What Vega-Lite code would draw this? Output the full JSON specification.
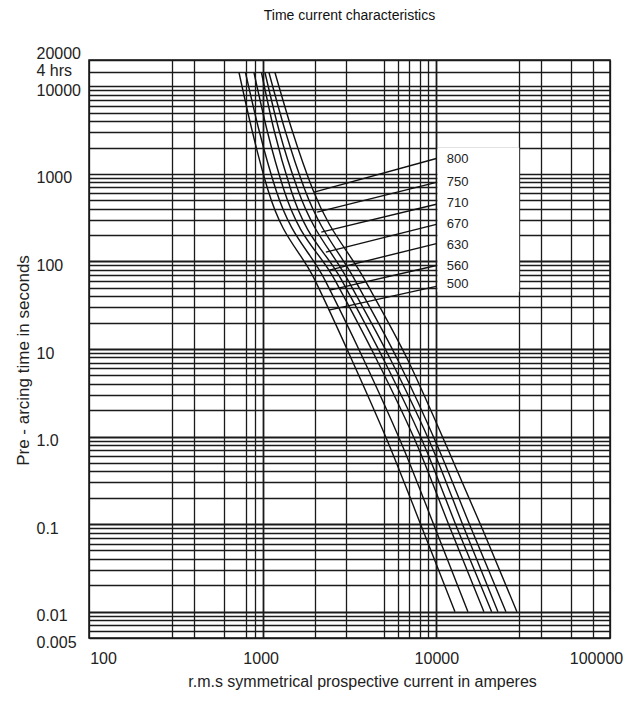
{
  "$schema": "https://vega.github.io/schema/vega-lite/v6.json",
  "width": 521,
  "height": 578,
  "autosize": "none",
  "padding": {"left": 89, "top": 60, "right": 26, "bottom": 63},
  "background": "white",
  "config": {
    "view": {"stroke": "#111", "strokeWidth": 1.5},
    "font": "Liberation Sans, Arial, sans-serif",
    "text": {"font": "Liberation Sans, Arial, sans-serif"}
  },
  "title": {
    "text": "Time current characteristics",
    "anchor": "middle",
    "fontSize": 14,
    "fontWeight": "normal",
    "color": "#111",
    "offset": 22,
    "font": "Liberation Sans, Arial, sans-serif"
  },
  "datasets": {
    "curves": [
      {"fuse": "500", "I": 730.5, "t": 14400}, {"fuse": "500", "I": 867.8, "t": 3170}, {"fuse": "500", "I": 1073, "t": 653.6}, {"fuse": "500", "I": 2000, "t": 61.2}, {"fuse": "500", "I": 3268, "t": 7.45}, {"fuse": "500", "I": 5406, "t": 0.761}, {"fuse": "500", "I": 8374, "t": 0.085}, {"fuse": "500", "I": 12800, "t": 0.01},
      {"fuse": "560", "I": 796, "t": 14400}, {"fuse": "560", "I": 952, "t": 3170}, {"fuse": "560", "I": 1193, "t": 653.6}, {"fuse": "560", "I": 2284, "t": 61.2}, {"fuse": "560", "I": 3830, "t": 7.45}, {"fuse": "560", "I": 6422, "t": 0.761}, {"fuse": "560", "I": 9948, "t": 0.085}, {"fuse": "560", "I": 15200, "t": 0.01},
      {"fuse": "630", "I": 891, "t": 14400}, {"fuse": "630", "I": 1059, "t": 3170}, {"fuse": "630", "I": 1326, "t": 653.6}, {"fuse": "630", "I": 2608, "t": 61.2}, {"fuse": "630", "I": 4550, "t": 7.45}, {"fuse": "630", "I": 7836, "t": 0.761}, {"fuse": "630", "I": 12140, "t": 0.085}, {"fuse": "630", "I": 18790, "t": 0.01},
      {"fuse": "670", "I": 984, "t": 14400}, {"fuse": "670", "I": 1162, "t": 3170}, {"fuse": "670", "I": 1455, "t": 653.6}, {"fuse": "670", "I": 2850, "t": 61.2}, {"fuse": "670", "I": 4993, "t": 7.45}, {"fuse": "670", "I": 8600, "t": 0.761}, {"fuse": "670", "I": 13320, "t": 0.085}, {"fuse": "670", "I": 20820, "t": 0.01},
      {"fuse": "710", "I": 1031, "t": 14400}, {"fuse": "710", "I": 1241, "t": 3170}, {"fuse": "710", "I": 1597, "t": 653.6}, {"fuse": "710", "I": 3098, "t": 61.2}, {"fuse": "710", "I": 5477, "t": 7.45}, {"fuse": "710", "I": 9434, "t": 0.761}, {"fuse": "710", "I": 14610, "t": 0.085}, {"fuse": "710", "I": 22630, "t": 0.01},
      {"fuse": "750", "I": 1087, "t": 14400}, {"fuse": "750", "I": 1344, "t": 3170}, {"fuse": "750", "I": 1752, "t": 653.6}, {"fuse": "750", "I": 3400, "t": 61.2}, {"fuse": "750", "I": 6010, "t": 7.45}, {"fuse": "750", "I": 10210, "t": 0.761}, {"fuse": "750", "I": 16030, "t": 0.085}, {"fuse": "750", "I": 25160, "t": 0.01},
      {"fuse": "800", "I": 1177, "t": 14400}, {"fuse": "800", "I": 1475, "t": 3170}, {"fuse": "800", "I": 1949, "t": 653.6}, {"fuse": "800", "I": 3880, "t": 61.2}, {"fuse": "800", "I": 6862, "t": 7.45}, {"fuse": "800", "I": 11510, "t": 0.761}, {"fuse": "800", "I": 18550, "t": 0.085}, {"fuse": "800", "I": 29110, "t": 0.01}
    ],
    "leaders": [
      {"fuse": "800", "I": 1979, "t": 620}, {"fuse": "800", "I": 10000, "t": 1500},
      {"fuse": "750", "I": 2060, "t": 366}, {"fuse": "750", "I": 10000, "t": 800},
      {"fuse": "710", "I": 2175, "t": 216}, {"fuse": "710", "I": 10000, "t": 450},
      {"fuse": "670", "I": 2312, "t": 128}, {"fuse": "670", "I": 10000, "t": 265},
      {"fuse": "630", "I": 2418, "t": 79.6}, {"fuse": "630", "I": 10000, "t": 160},
      {"fuse": "560", "I": 2437, "t": 47}, {"fuse": "560", "I": 10000, "t": 90},
      {"fuse": "500", "I": 2405, "t": 27.8}, {"fuse": "500", "I": 10000, "t": 52}
    ],
    "labels": [
      {"fuse": "800", "I": 11500, "t": 1477},
      {"fuse": "750", "I": 11500, "t": 800},
      {"fuse": "710", "I": 11500, "t": 461},
      {"fuse": "670", "I": 11500, "t": 265},
      {"fuse": "630", "I": 11500, "t": 153.7},
      {"fuse": "560", "I": 11500, "t": 88.4},
      {"fuse": "500", "I": 11500, "t": 54.6}
    ],
    "box": [
      {"I": 10150, "I2": 30000, "t": 2000, "t2": 45}
    ]
  },
  "encoding": {
    "x": {
      "field": "I",
      "type": "quantitative",
      "scale": {"type": "log", "domain": [100, 100000], "nice": false},
      "axis": {
        "values": [100, 300, 400, 600, 800, 900, 1000, 2000, 3000, 5000, 6000, 7000, 8000, 9000, 10000, 30000, 40000, 60000, 80000, 100000],
        "title": "r.m.s symmetrical prospective current in amperes",
        "labelExpr": "datum.value == 100 ? '100' : datum.value == 1000 ? '1000' : datum.value == 10000 ? '10000' : datum.value == 100000 ? '100000' : ''",
        "grid": true,
        "gridColor": "#1a1a1a",
        "gridWidth": {"condition": {"test": "datum.value == 1000 || datum.value == 10000", "value": 1.8}, "value": 1.3},
        "ticks": false,
        "tickSize": 0,
        "domain": false,
        "labelPadding": 12,
        "labelFontSize": 16,
        "labelColor": "#222",
        "labelOverlap": false,
        "labelBound": false,
        "labelFlush": false,
        "labelOffset": {"condition": [{"test": "datum.value == 100", "value": 14}, {"test": "datum.value == 100000", "value": -14}, {"test": "datum.value == 1000", "value": -2}], "value": 0},
        "titleFontSize": 16,
        "titleFontWeight": "normal",
        "titleColor": "#222",
        "titleX": 273,
        "titleY": 43,
        "titleAlign": "center",
        "titleBaseline": "middle"
      }
    },
    "y": {
      "field": "t",
      "type": "quantitative",
      "scale": {"type": "log", "domain": [0.005, 20000], "nice": false},
      "axis": {
        "values": [0.005, 0.006, 0.007, 0.008, 0.009, 0.01, 0.02, 0.03, 0.04, 0.05, 0.06, 0.07, 0.08, 0.09, 0.1, 0.2, 0.3, 0.4, 0.5, 0.6, 0.7, 0.8, 0.9, 1, 2, 3, 4, 5, 6, 7, 8, 9, 10, 20, 30, 40, 50, 60, 70, 80, 90, 100, 200, 300, 400, 500, 600, 700, 800, 900, 1000, 2000, 3000, 4000, 5000, 6000, 7000, 8000, 9000, 10000, 14400, 20000],
        "title": "Pre - arcing time in seconds",
        "labelExpr": "datum.value == 20000 ? '20000' : datum.value == 14400 ? '4 hrs' : datum.value == 10000 ? '10000' : datum.value == 1000 ? '1000' : datum.value == 100 ? '100' : datum.value == 10 ? '10' : datum.value == 1 ? '1.0' : datum.value == 0.1 ? '0.1' : datum.value == 0.01 ? '0.01' : datum.value == 0.005 ? '0.005' : ''",
        "grid": true,
        "gridColor": "#1a1a1a",
        "gridWidth": {"condition": {"test": "datum.value == 100 || datum.value == 10 || datum.value == 0.01 || datum.value == 1 || datum.value == 0.1", "value": 2}, "value": 1.3},
        "ticks": false,
        "tickSize": 0,
        "domain": false,
        "labelAlign": "left",
        "labelBaseline": "middle",
        "labelPadding": 53,
        "labelFontSize": 16,
        "labelColor": "#222",
        "labelOverlap": false,
        "labelBound": false,
        "labelFlush": false,
        "labelOffset": {"condition": [{"test": "datum.value == 20000", "value": -7}, {"test": "datum.value == 14400", "value": -2}], "value": 4},
        "titleFontSize": 17,
        "titleFontWeight": "normal",
        "titleColor": "#222",
        "titleX": -66,
        "titleY": 300,
        "titleAlign": "center",
        "titleBaseline": "middle",
        "titleAngle": -90
      }
    }
  },
  "layer": [
    {
      "data": {"name": "box"},
      "mark": {"type": "rect", "fill": "white", "stroke": null},
      "encoding": {
        "x2": {"field": "I2"},
        "y2": {"field": "t2"}
      }
    },
    {
      "data": {"name": "curves"},
      "mark": {"type": "line", "color": "#111", "strokeWidth": 1.4, "interpolate": "monotone"},
      "encoding": {
        "detail": {"field": "fuse", "type": "nominal"}
      }
    },
    {
      "data": {"name": "leaders"},
      "mark": {"type": "line", "color": "#111", "strokeWidth": 1.4},
      "encoding": {
        "detail": {"field": "fuse", "type": "nominal"}
      }
    },
    {
      "data": {"name": "labels"},
      "mark": {"type": "text", "align": "left", "baseline": "middle", "fontSize": 13, "color": "#222"},
      "encoding": {
        "text": {"field": "fuse", "type": "nominal"}
      }
    }
  ]
}
